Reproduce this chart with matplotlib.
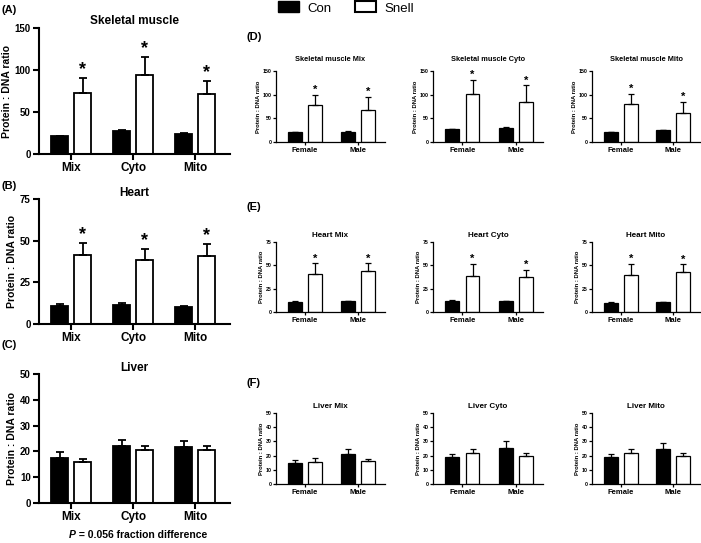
import numpy as np
import matplotlib
matplotlib.use("Agg")
import matplotlib.pyplot as plt
from matplotlib.patches import Patch

plt.rcParams['font.family'] = ['Liberation Sans', 'DejaVu Sans']

# =========================
# Data
# =========================
fractions = ['Mix', 'Cyto', 'Mito']
sexes = ['Female', 'Male']

# (A)-(C) pooled
skm_con = [21, 27.5, 24]
skm_con_err = [1, 1.5, 1]
skm_snell = [73, 94, 72]
skm_snell_err = [17, 21, 15]

heart_con = [11, 11.6, 10]
heart_con_err = [0.8, 0.8, 0.6]
heart_snell = [41.7, 38.3, 41.1]
heart_snell_err = [7, 6.8, 6.8]

liver_con = [17.6, 22, 21.7]
liver_con_err = [2.2, 2.5, 2.5]
liver_snell = [15.9, 20.4, 20.7]
liver_snell_err = [1.2, 1.7, 1.4]

# (D)-(F) by sex, rows = Mix, Cyto, Mito
skm_sex_con = [[21, 21], [26.8, 30], [21, 24.6]]
skm_sex_con_err = [[1, 1.5], [1.5, 2], [1, 1.5]]
skm_sex_snell = [[78, 67.6], [101, 84.5], [79.6, 62]]
skm_sex_snell_err = [[22, 27.5], [30, 35], [22.5, 23]]

heart_sex_con = [[10.6, 11.3], [11.3, 11.3], [9.9, 10.2]]
heart_sex_con_err = [[1.4, 1], [1.5, 1], [1, 0.8]]
heart_sex_snell = [[40.3, 43.8], [38.9, 37.1], [39.9, 42.4]]
heart_sex_snell_err = [[11.7, 8.2], [13, 7.8], [12, 8.5]]

liver_sex_con = [[15, 21], [18.7, 25.7], [18.7, 25]]
liver_sex_con_err = [[1.9, 4], [2.1, 4.4], [2.3, 4]]
liver_sex_snell = [[15.7, 16.1], [21.5, 19.6], [21.5, 19.6]]
liver_sex_snell_err = [[2.3, 1.2], [2.8, 1.9], [3, 1.9]]

W, H = 701, 543
fig = plt.figure(figsize=(W / 100, H / 100), dpi=100)


def add_ax(x0, y0, x1, y1):
    return fig.add_axes([x0 / W, 1 - y1 / H, (x1 - x0) / W, (y1 - y0) / H])


# =========================
# Bar panel helper
# =========================
def bar_panel(ax, cats, con, con_err, snell, snell_err, stars, ymax, yticks,
              title, big=True, title_pad=3, title_fs=None):
    x = np.arange(len(cats))
    if big:
        width, off, lw, cap, fs_star, spine = 0.27, 0.185, 1.3, 3.2, 13, 1.5
        fs_tick, fs_y, fs_lab, fs_title = 8.5, 7, 7.5, 8.5
        xlim = (-0.52, 2.56)
    else:
        width, off, lw, cap, fs_star, spine = 0.26, 0.19, 0.9, 2.2, 8, 0.9
        fs_tick, fs_y, fs_lab, fs_title = 5.5, 3.8, 4.2, 5.3
        xlim = (-0.55, 1.51)
    if title_fs:
        fs_title = title_fs
    ax.bar(x - off, con, width, color='black', edgecolor='black', linewidth=lw,
           zorder=2)
    ax.bar(x + off, snell, width, color='white', edgecolor='black', linewidth=lw,
           zorder=2)
    ax.errorbar(x - off, con, yerr=[np.zeros(len(cats)), con_err], fmt='none',
                ecolor='black', elinewidth=lw, capsize=cap, capthick=lw, zorder=3)
    ax.errorbar(x + off, snell, yerr=[np.zeros(len(cats)), snell_err], fmt='none',
                ecolor='black', elinewidth=lw, capsize=cap, capthick=lw, zorder=3)
    if stars:
        for xi, v, e in zip(x + off, snell, snell_err):
            ax.annotate('*', (xi, v + e), xytext=(0, 0), textcoords='offset points',
                        ha='center', va='bottom', fontsize=fs_star, fontweight='bold')
    ax.set_xlim(*xlim)
    ax.set_ylim(0, ymax)
    ax.set_yticks(yticks)
    ax.set_xticks(x)
    ax.set_xticklabels(cats, fontsize=fs_tick, fontweight='bold')
    for lbl in ax.get_yticklabels():
        lbl.set_fontsize(fs_y)
        lbl.set_fontweight('bold')
    ax.set_ylabel('Protein : DNA ratio', fontsize=fs_lab, fontweight='bold',
                  labelpad=2 if big else 1.5)
    for s in ['top', 'right']:
        ax.spines[s].set_visible(False)
    for s in ['left', 'bottom']:
        ax.spines[s].set_linewidth(spine)
    ax.tick_params(axis='both', width=spine, length=4 if big else 2,
                   pad=2 if big else 1)
    ax.tick_params(axis='x', pad=2 if big else 1.8)
    ax.set_title(title, fontsize=fs_title, fontweight='bold', pad=title_pad)


# =========================
# Left column (A)-(C)
# =========================
axA = add_ax(39, 28, 230, 154)
bar_panel(axA, fractions, skm_con, skm_con_err, skm_snell, skm_snell_err,
          True, 150, [0, 50, 100, 150], 'Skeletal muscle', title_pad=3)
axB = add_ax(39, 199, 230, 324)
bar_panel(axB, fractions, heart_con, heart_con_err, heart_snell, heart_snell_err,
          True, 75, [0, 25, 50, 75], 'Heart', title_pad=2)
axC = add_ax(39, 374, 230, 503)
bar_panel(axC, fractions, liver_con, liver_con_err, liver_snell, liver_snell_err,
          False, 50, [0, 10, 20, 30, 40, 50], 'Liver', title_pad=-1)

# =========================
# Right grid (D)-(F)
# =========================
cols = [(276, 385), (433, 543), (592, 700)]
rows = [
    ((71, 142), 'Skeletal muscle', skm_sex_con, skm_sex_con_err, skm_sex_snell,
     skm_sex_snell_err, True, 150, [0, 50, 100, 150], 7, 5.3),
    ((242, 312), 'Heart', heart_sex_con, heart_sex_con_err, heart_sex_snell,
     heart_sex_snell_err, True, 75, [0, 25, 50, 75], 3.5, 5.8),
    ((413, 484), 'Liver', liver_sex_con, liver_sex_con_err, liver_sex_snell,
     liver_sex_snell_err, False, 50, [0, 10, 20, 30, 40, 50], 3.5, 5.8),
]
for (y0, y1), tissue, con, con_e, sn, sn_e, stars, ymax, yt, tpad, tfs in rows:
    for j, (x0, x1) in enumerate(cols):
        ax = add_ax(x0, y0, x1, y1)
        bar_panel(ax, sexes, con[j], con_e[j], sn[j], sn_e[j], stars, ymax, yt,
                  f'{tissue} {fractions[j]}', big=False, title_pad=tpad,
                  title_fs=tfs)

# =========================
# Labels, legend, footnote
# =========================
for lab, (px, py) in {'(A)': (2, 10), '(B)': (2, 186), '(C)': (2, 345),
                      '(D)': (247, 37), '(E)': (247, 207), '(F)': (247, 383)}.items():
    fig.text(px / W, 1 - py / H, lab, fontsize=8, fontweight='bold',
             ha='left', va='center')

handles = [Patch(facecolor='black', edgecolor='black', label='Con'),
           Patch(facecolor='white', edgecolor='black', linewidth=1.5, label='Snell')]
fig.legend(handles=handles, ncol=2, loc='center left',
           bbox_to_anchor=(278 / W, 1 - 8 / H), frameon=False, fontsize=9.5,
           handlelength=1.6, handleheight=0.9, columnspacing=1.8, handletextpad=0.6,
           borderpad=0, borderaxespad=0)

fig.text(76 / W, 1 - 535 / H, 'P', fontsize=7.5, fontweight='bold',
         fontstyle='italic', ha='right', va='center')
fig.text(76 / W, 1 - 535 / H, ' = 0.056 fraction difference', fontsize=7.5,
         fontweight='bold', ha='left', va='center')

fig.savefig('out.png', dpi=100)
